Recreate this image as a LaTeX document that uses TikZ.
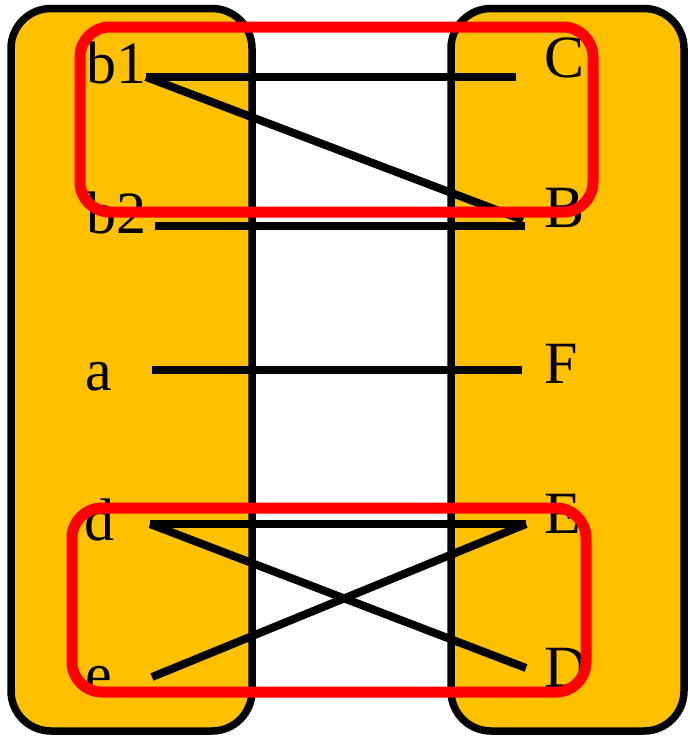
\documentclass[tikz,border=0pt]{standalone}
\usepackage{fontspec}
\setmainfont{Liberation Serif}
\definecolor{gold}{RGB}{255,192,0}
\tikzset{
  panel/.style={draw=black, line width=7.5pt, fill=gold, rounded corners=40pt},
  group/.style={draw=red, line width=11pt, rounded corners=30pt},
  link/.style={draw=black, line width=8pt},
  lbl/.style={anchor=base west, inner sep=0pt, font=\fontsize{60}{72}\selectfont}
}
\begin{document}
\begin{tikzpicture}[x=1pt,y=-1pt]
\useasboundingbox (0,0) rectangle (689,736);
\draw[panel] (11,8.5) rectangle (252,731);
\draw[panel] (451,8.5) rectangle (684,731);
% endpoints
\coordinate (b1e) at (146,77);
\coordinate (b2e) at (155,226);
\coordinate (ae) at (152,370);
\coordinate (de) at (150,524);
\coordinate (ee) at (152,677);
\coordinate (Ce) at (516,77);
\coordinate (Bd) at (523,220);
\coordinate (Be) at (525,226);
\coordinate (Fe) at (522,370);
\coordinate (Ee) at (526,524);
\coordinate (De) at (526,668);
% connectors
\draw[link] (b1e) -- (Ce);
\draw[link] (b1e) -- (Bd);
\draw[link] (b2e) -- (Be);
\draw[link] (ae) -- (Fe);
\draw[link] (de) -- (Ee);
\draw[link] (de) -- (De);
\draw[link] (ee) -- (Ee);
% labels
\node[lbl] (b1) at (86,83) {b1};
\node[lbl] (b2) at (86,233) {b2};
\node[lbl] (a) at (85,390) {a};
\node[lbl] (d) at (84,540) {d};
\node[lbl] (e) at (85,694) {e};
\node[lbl] (C) at (544,77) {C};
\node[lbl] (B) at (544,227) {B};
\node[lbl] (F) at (544,383) {F};
\node[lbl] (E) at (544,533) {E};
\node[lbl] (D) at (544,687) {D};
% groups
\draw[group] (80,27) rectangle (593,212);
\draw[group] (72,508) rectangle (586,692);
\end{tikzpicture}
\end{document}
